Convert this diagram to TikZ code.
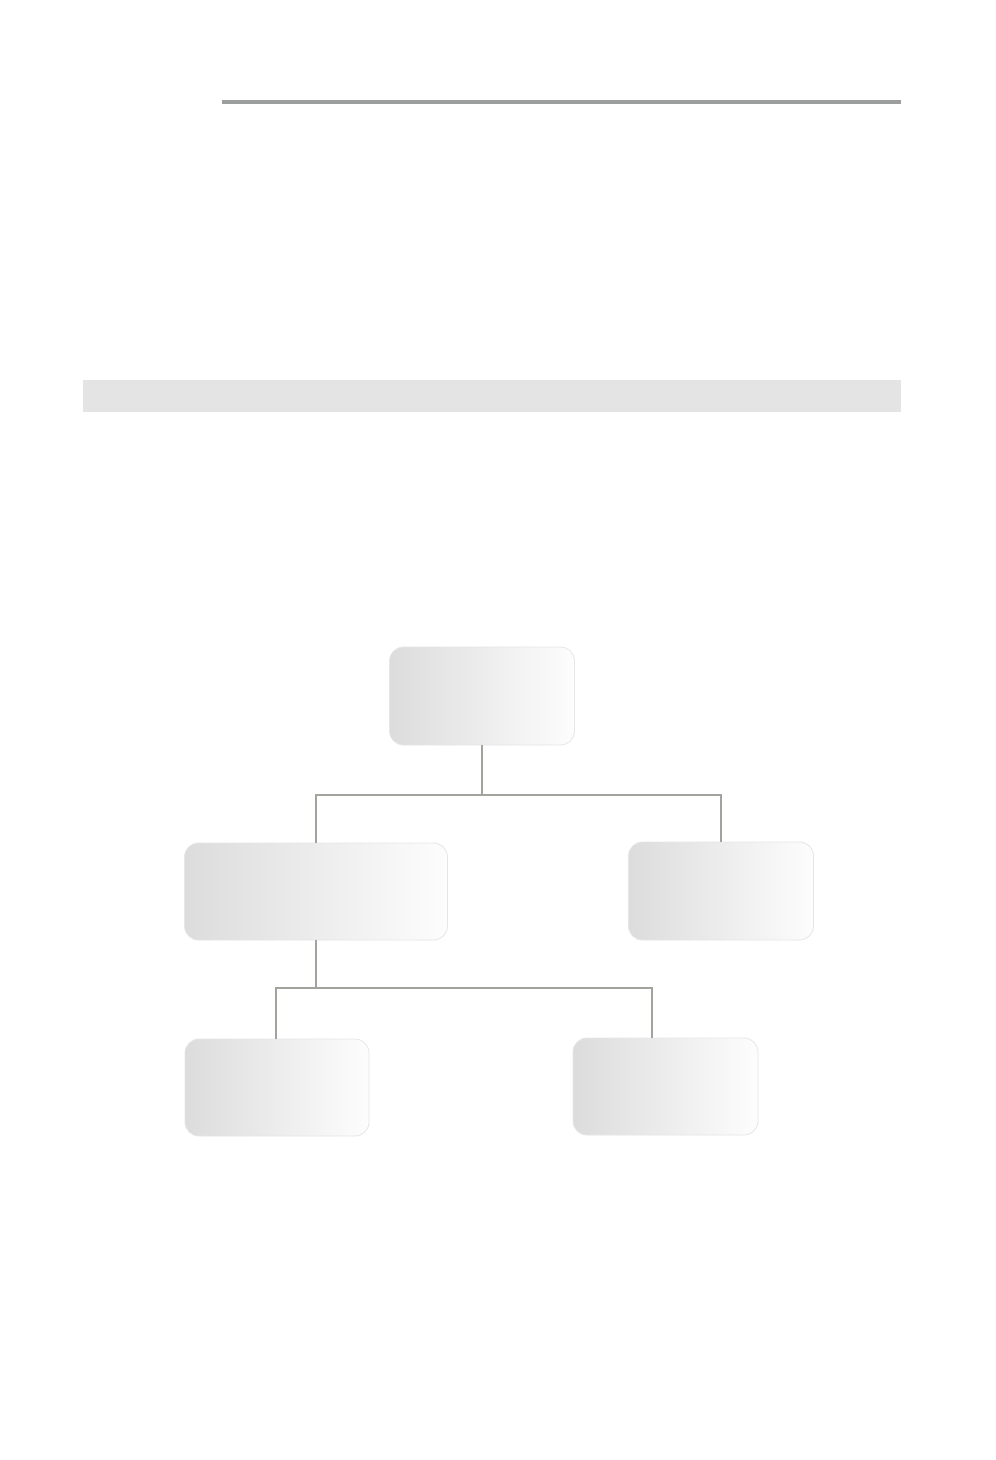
\documentclass[tikz,border=0pt]{standalone}
\usepackage{tikz}
\definecolor{linegray}{HTML}{A3A39E}
\definecolor{rulegray}{HTML}{9A9E9C}
\definecolor{bandgray}{HTML}{E4E4E4}
\definecolor{boxleft}{HTML}{DCDCDC}
\definecolor{boxright}{HTML}{FDFDFD}
\definecolor{boxedge}{HTML}{E6E6E6}
\tikzset{
  box/.style={draw=boxedge, line width=0.8pt, rounded corners=14pt,
    left color=boxleft, right color=boxright, inner sep=0pt, outer sep=0pt},
  conn/.style={draw=linegray, line width=1.3pt}
}
\begin{document}
\begin{tikzpicture}[x=1pt,y=-1pt]
\useasboundingbox (0,0) rectangle (996,1460);
\fill[white] (0,0) rectangle (996,1460);
% top rule and band
\fill[rulegray] (222,99.5) rectangle (901,103.5);
\fill[bandgray] (83,380) rectangle (901,412);
% boxes
\node[box, minimum width=185pt, minimum height=98pt] (top) at (482,696) {};
\node[box, minimum width=263pt, minimum height=97pt] (ml) at (316,891.5) {};
\node[box, minimum width=185pt, minimum height=98pt] (mr) at (721,891) {};
\node[box, minimum width=184pt, minimum height=97pt] (bl) at (277,1087.5) {};
\node[box, minimum width=185pt, minimum height=97pt] (br) at (665.5,1086.5) {};
% junctions
\coordinate (j1) at (482,795);
\coordinate (j2) at (316,988);
\coordinate (brt) at (652,1038);
\coordinate (blt) at (276,1039);
% connectors
\draw[conn] (top.south) -- (j1);
\draw[conn] (ml.north) |- (j1) -| (mr.north);
\draw[conn] (ml.south) -- (j2);
\draw[conn] (blt) |- (j2) -| (brt);
\end{tikzpicture}
\end{document}
